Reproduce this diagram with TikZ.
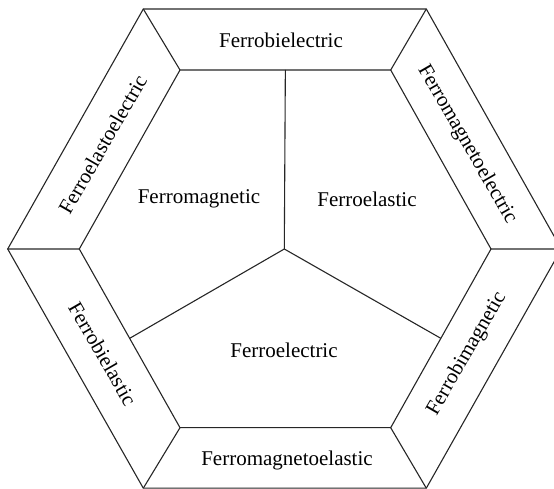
\documentclass[tikz,border=0pt]{standalone}
\usepackage{fontspec}
\setmainfont{Liberation Serif}
\usetikzlibrary{calc}
\begin{document}
\begin{tikzpicture}[x=1pt,y=1pt,
  edge/.style={line width=1.1pt, black!85},
  lbl/.style={inner sep=0pt, font=\fontsize{21}{24}\selectfont}]
\useasboundingbox (0,0) rectangle (554,489);
\clip (0,0) rectangle (554,489);
% outer hexagon
\coordinate (o1) at (143.3,480);
\coordinate (o2) at (426.3,480);
\coordinate (o3) at (561.3,240);
\coordinate (o4) at (426.3,0.8);
\coordinate (o5) at (143.3,0.8);
\coordinate (o6) at (7.7,240);
% inner hexagon
\coordinate (i1) at (180,419);
\coordinate (i2) at (390.7,419);
\coordinate (i3) at (491,240);
\coordinate (i4) at (390.7,61.3);
\coordinate (i5) at (180,61.3);
\coordinate (i6) at (79.3,240);
\coordinate (c) at (284.3,240);
\draw[edge] (o1) -- (o2) -- (o3) -- (o4) -- (o5) -- (o6) -- cycle;
\draw[edge] (i1) -- (i2) -- (i3) -- (i4) -- (i5) -- (i6) -- cycle;
\draw[edge] (o1) -- (i1) (o2) -- (i2) (o3) -- (i3) (o4) -- (i4) (o5) -- (i5) (o6) -- (i6);
\coordinate (mt) at ($(i1)!0.5!(i2)$);
\coordinate (ml) at ($(i5)!0.5!(i6)$);
\coordinate (mr) at ($(i3)!0.5!(i4)$);
\draw[edge] (c) -- (mt) (c) -- (ml) (c) -- (mr);
% labels
\node[lbl] (fbe) at (281,449) {Ferrobielectric};
\node[lbl] (fme) at (287,29) {Ferromagnetoelastic};
\node[lbl] (fm) at (199,290) {Ferromagnetic};
\node[lbl] (fel) at (367,290) {Ferroelastic};
\node[lbl] (fe) at (284,139) {Ferroelectric};
\node[lbl, rotate=60] (fee) at (102.6,344.7) {Ferroelastoelectric};
\node[lbl, rotate=-60] (fmel) at (467,344.7) {Ferromagnetoelectric};
\node[lbl, rotate=-60] (fbel) at (102.6,135.4) {Ferrobielastic};
\node[lbl, rotate=60] (fbm) at (467,135.4) {Ferrobimagnetic};
\end{tikzpicture}
\end{document}
